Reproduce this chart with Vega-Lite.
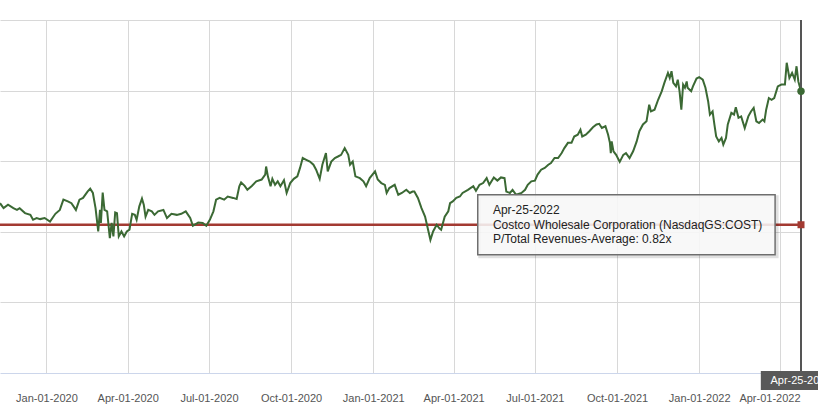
{
  "$schema": "https://vega.github.io/schema/vega-lite/v6.json",
  "width": 801,
  "height": 353,
  "autosize": {"type": "none"},
  "padding": {"left": 0, "top": 20, "right": 17, "bottom": 41},
  "background": "white",
  "config": {"view": {"stroke": null}, "font": "Liberation Sans"},
  "datasets": {
    "pr": [
      {"d": "2019-11-10", "v": 0.881}, {"d": "2019-11-14", "v": 0.867}, {"d": "2019-11-19", "v": 0.877}, {"d": "2019-11-25", "v": 0.867},
      {"d": "2019-11-29", "v": 0.862}, {"d": "2019-12-02", "v": 0.867}, {"d": "2019-12-08", "v": 0.853}, {"d": "2019-12-14", "v": 0.848},
      {"d": "2019-12-17", "v": 0.834}, {"d": "2019-12-21", "v": 0.839}, {"d": "2019-12-25", "v": 0.836}, {"d": "2019-12-30", "v": 0.839},
      {"d": "2020-01-05", "v": 0.829}, {"d": "2020-01-11", "v": 0.851}, {"d": "2020-01-16", "v": 0.862}, {"d": "2020-01-20", "v": 0.891},
      {"d": "2020-01-25", "v": 0.886}, {"d": "2020-01-29", "v": 0.881}, {"d": "2020-02-03", "v": 0.862}, {"d": "2020-02-07", "v": 0.891},
      {"d": "2020-02-11", "v": 0.896}, {"d": "2020-02-16", "v": 0.914}, {"d": "2020-02-19", "v": 0.922}, {"d": "2020-02-22", "v": 0.910},
      {"d": "2020-02-25", "v": 0.867}, {"d": "2020-02-28", "v": 0.801}, {"d": "2020-03-01", "v": 0.862}, {"d": "2020-03-02", "v": 0.825},
      {"d": "2020-03-04", "v": 0.911}, {"d": "2020-03-06", "v": 0.862}, {"d": "2020-03-09", "v": 0.858}, {"d": "2020-03-12", "v": 0.782},
      {"d": "2020-03-14", "v": 0.825}, {"d": "2020-03-16", "v": 0.787}, {"d": "2020-03-18", "v": 0.855}, {"d": "2020-03-20", "v": 0.853},
      {"d": "2020-03-22", "v": 0.787}, {"d": "2020-03-25", "v": 0.801}, {"d": "2020-03-28", "v": 0.787}, {"d": "2020-03-31", "v": 0.801},
      {"d": "2020-04-03", "v": 0.806}, {"d": "2020-04-06", "v": 0.851}, {"d": "2020-04-09", "v": 0.848}, {"d": "2020-04-11", "v": 0.834},
      {"d": "2020-04-14", "v": 0.872}, {"d": "2020-04-17", "v": 0.894}, {"d": "2020-04-19", "v": 0.877}, {"d": "2020-04-21", "v": 0.843},
      {"d": "2020-04-24", "v": 0.862}, {"d": "2020-04-28", "v": 0.858}, {"d": "2020-05-01", "v": 0.848}, {"d": "2020-05-05", "v": 0.858},
      {"d": "2020-05-11", "v": 0.862}, {"d": "2020-05-15", "v": 0.839}, {"d": "2020-05-20", "v": 0.851}, {"d": "2020-05-26", "v": 0.848},
      {"d": "2020-05-31", "v": 0.851}, {"d": "2020-06-05", "v": 0.858}, {"d": "2020-06-10", "v": 0.839}, {"d": "2020-06-13", "v": 0.817},
      {"d": "2020-06-19", "v": 0.826}, {"d": "2020-06-24", "v": 0.825}, {"d": "2020-06-28", "v": 0.817}, {"d": "2020-07-02", "v": 0.834},
      {"d": "2020-07-06", "v": 0.858}, {"d": "2020-07-09", "v": 0.891}, {"d": "2020-07-13", "v": 0.896}, {"d": "2020-07-18", "v": 0.891},
      {"d": "2020-07-22", "v": 0.900}, {"d": "2020-07-28", "v": 0.896}, {"d": "2020-08-01", "v": 0.893}, {"d": "2020-08-04", "v": 0.929},
      {"d": "2020-08-06", "v": 0.940}, {"d": "2020-08-10", "v": 0.930}, {"d": "2020-08-13", "v": 0.919}, {"d": "2020-08-18", "v": 0.930},
      {"d": "2020-08-23", "v": 0.943}, {"d": "2020-08-29", "v": 0.948}, {"d": "2020-09-02", "v": 0.962}, {"d": "2020-09-03", "v": 0.985},
      {"d": "2020-09-05", "v": 0.957}, {"d": "2020-09-08", "v": 0.929}, {"d": "2020-09-10", "v": 0.950}, {"d": "2020-09-13", "v": 0.933},
      {"d": "2020-09-16", "v": 0.943}, {"d": "2020-09-19", "v": 0.929}, {"d": "2020-09-23", "v": 0.946}, {"d": "2020-09-26", "v": 0.910},
      {"d": "2020-09-30", "v": 0.938}, {"d": "2020-10-04", "v": 0.950}, {"d": "2020-10-08", "v": 0.957}, {"d": "2020-10-11", "v": 0.981},
      {"d": "2020-10-14", "v": 1.009}, {"d": "2020-10-18", "v": 1.004}, {"d": "2020-10-22", "v": 0.999}, {"d": "2020-10-26", "v": 0.990},
      {"d": "2020-10-29", "v": 0.976}, {"d": "2020-11-02", "v": 0.950}, {"d": "2020-11-05", "v": 0.990}, {"d": "2020-11-09", "v": 1.023},
      {"d": "2020-11-11", "v": 0.971}, {"d": "2020-11-15", "v": 0.999}, {"d": "2020-11-19", "v": 1.009}, {"d": "2020-11-23", "v": 1.014},
      {"d": "2020-11-26", "v": 1.018}, {"d": "2020-11-30", "v": 1.037}, {"d": "2020-12-04", "v": 1.018}, {"d": "2020-12-06", "v": 0.990},
      {"d": "2020-12-09", "v": 0.999}, {"d": "2020-12-12", "v": 0.957}, {"d": "2020-12-17", "v": 0.952}, {"d": "2020-12-21", "v": 0.943},
      {"d": "2020-12-24", "v": 0.929}, {"d": "2020-12-28", "v": 0.952}, {"d": "2021-01-03", "v": 0.971}, {"d": "2021-01-06", "v": 0.948},
      {"d": "2021-01-10", "v": 0.938}, {"d": "2021-01-14", "v": 0.933}, {"d": "2021-01-16", "v": 0.910}, {"d": "2021-01-19", "v": 0.924},
      {"d": "2021-01-25", "v": 0.933}, {"d": "2021-01-29", "v": 0.905}, {"d": "2021-02-02", "v": 0.910}, {"d": "2021-02-07", "v": 0.919},
      {"d": "2021-02-11", "v": 0.910}, {"d": "2021-02-14", "v": 0.914}, {"d": "2021-02-16", "v": 0.914}, {"d": "2021-02-20", "v": 0.896},
      {"d": "2021-02-24", "v": 0.867}, {"d": "2021-02-28", "v": 0.843}, {"d": "2021-03-03", "v": 0.810}, {"d": "2021-03-06", "v": 0.777},
      {"d": "2021-03-09", "v": 0.801}, {"d": "2021-03-13", "v": 0.820}, {"d": "2021-03-16", "v": 0.810}, {"d": "2021-03-18", "v": 0.806},
      {"d": "2021-03-22", "v": 0.843}, {"d": "2021-03-26", "v": 0.858}, {"d": "2021-03-28", "v": 0.881}, {"d": "2021-03-31", "v": 0.886},
      {"d": "2021-04-04", "v": 0.896}, {"d": "2021-04-08", "v": 0.900}, {"d": "2021-04-11", "v": 0.910}, {"d": "2021-04-17", "v": 0.919},
      {"d": "2021-04-23", "v": 0.929}, {"d": "2021-04-26", "v": 0.916}, {"d": "2021-04-30", "v": 0.933}, {"d": "2021-05-04", "v": 0.938},
      {"d": "2021-05-08", "v": 0.952}, {"d": "2021-05-11", "v": 0.933}, {"d": "2021-05-16", "v": 0.954}, {"d": "2021-05-20", "v": 0.945},
      {"d": "2021-05-24", "v": 0.954}, {"d": "2021-05-28", "v": 0.952}, {"d": "2021-05-30", "v": 0.914}, {"d": "2021-06-03", "v": 0.910},
      {"d": "2021-06-06", "v": 0.919}, {"d": "2021-06-10", "v": 0.905}, {"d": "2021-06-16", "v": 0.910}, {"d": "2021-06-20", "v": 0.919},
      {"d": "2021-06-23", "v": 0.933}, {"d": "2021-06-27", "v": 0.943}, {"d": "2021-07-01", "v": 0.945}, {"d": "2021-07-04", "v": 0.962},
      {"d": "2021-07-08", "v": 0.976}, {"d": "2021-07-12", "v": 0.981}, {"d": "2021-07-16", "v": 0.990}, {"d": "2021-07-19", "v": 0.995},
      {"d": "2021-07-23", "v": 1.009}, {"d": "2021-07-27", "v": 1.009}, {"d": "2021-07-31", "v": 1.023}, {"d": "2021-08-03", "v": 1.037},
      {"d": "2021-08-07", "v": 1.052}, {"d": "2021-08-11", "v": 1.052}, {"d": "2021-08-14", "v": 1.070}, {"d": "2021-08-18", "v": 1.075},
      {"d": "2021-08-21", "v": 1.089}, {"d": "2021-08-23", "v": 1.070}, {"d": "2021-08-27", "v": 1.075}, {"d": "2021-08-31", "v": 1.085},
      {"d": "2021-09-04", "v": 1.096}, {"d": "2021-09-08", "v": 1.104}, {"d": "2021-09-11", "v": 1.106}, {"d": "2021-09-14", "v": 1.094},
      {"d": "2021-09-18", "v": 1.099}, {"d": "2021-09-21", "v": 1.075}, {"d": "2021-09-23", "v": 1.052}, {"d": "2021-09-24", "v": 1.023},
      {"d": "2021-09-25", "v": 1.056}, {"d": "2021-09-27", "v": 1.028}, {"d": "2021-09-30", "v": 1.018}, {"d": "2021-10-04", "v": 0.998},
      {"d": "2021-10-08", "v": 1.018}, {"d": "2021-10-11", "v": 1.023}, {"d": "2021-10-15", "v": 1.009}, {"d": "2021-10-19", "v": 1.028},
      {"d": "2021-10-23", "v": 1.056}, {"d": "2021-10-26", "v": 1.085}, {"d": "2021-10-30", "v": 1.104}, {"d": "2021-11-03", "v": 1.113},
      {"d": "2021-11-06", "v": 1.160}, {"d": "2021-11-08", "v": 1.141}, {"d": "2021-11-12", "v": 1.146}, {"d": "2021-11-16", "v": 1.174},
      {"d": "2021-11-20", "v": 1.198}, {"d": "2021-11-23", "v": 1.222}, {"d": "2021-11-27", "v": 1.250}, {"d": "2021-11-29", "v": 1.236},
      {"d": "2021-12-01", "v": 1.255}, {"d": "2021-12-03", "v": 1.222}, {"d": "2021-12-06", "v": 1.212}, {"d": "2021-12-08", "v": 1.231},
      {"d": "2021-12-10", "v": 1.198}, {"d": "2021-12-12", "v": 1.146}, {"d": "2021-12-14", "v": 1.217}, {"d": "2021-12-16", "v": 1.208},
      {"d": "2021-12-18", "v": 1.226}, {"d": "2021-12-19", "v": 1.208}, {"d": "2021-12-23", "v": 1.198}, {"d": "2021-12-25", "v": 1.212},
      {"d": "2021-12-29", "v": 1.234}, {"d": "2022-01-01", "v": 1.238}, {"d": "2022-01-05", "v": 1.231}, {"d": "2022-01-08", "v": 1.208},
      {"d": "2022-01-11", "v": 1.170}, {"d": "2022-01-13", "v": 1.132}, {"d": "2022-01-16", "v": 1.141}, {"d": "2022-01-18", "v": 1.104},
      {"d": "2022-01-20", "v": 1.070}, {"d": "2022-01-23", "v": 1.056}, {"d": "2022-01-26", "v": 1.066}, {"d": "2022-01-28", "v": 1.047},
      {"d": "2022-01-31", "v": 1.066}, {"d": "2022-02-02", "v": 1.104}, {"d": "2022-02-06", "v": 1.137}, {"d": "2022-02-09", "v": 1.132},
      {"d": "2022-02-11", "v": 1.153}, {"d": "2022-02-14", "v": 1.123}, {"d": "2022-02-17", "v": 1.127}, {"d": "2022-02-21", "v": 1.094},
      {"d": "2022-02-25", "v": 1.127}, {"d": "2022-02-28", "v": 1.141}, {"d": "2022-03-03", "v": 1.151}, {"d": "2022-03-06", "v": 1.113},
      {"d": "2022-03-09", "v": 1.108}, {"d": "2022-03-13", "v": 1.118}, {"d": "2022-03-15", "v": 1.113}, {"d": "2022-03-17", "v": 1.146},
      {"d": "2022-03-20", "v": 1.179}, {"d": "2022-03-23", "v": 1.174}, {"d": "2022-03-26", "v": 1.179}, {"d": "2022-03-30", "v": 1.212},
      {"d": "2022-04-03", "v": 1.217}, {"d": "2022-04-07", "v": 1.217}, {"d": "2022-04-09", "v": 1.279}, {"d": "2022-04-12", "v": 1.236},
      {"d": "2022-04-15", "v": 1.250}, {"d": "2022-04-18", "v": 1.231}, {"d": "2022-04-20", "v": 1.269}, {"d": "2022-04-22", "v": 1.226},
      {"d": "2022-04-25", "v": 1.198}
    ]
  },
  "layer": [
    {
      "data": {"values": [{}]},
      "mark": {"type": "rule", "color": "#a33a32", "strokeWidth": 2.5},
      "encoding": {"y": {"datum": 0.82}}
    },
    {
      "data": {"name": "pr"},
      "mark": {"type": "line", "color": "#3b6934", "strokeWidth": 2},
      "encoding": {
        "x": {
          "field": "d",
          "type": "temporal",
          "scale": {"type": "utc", "domain": [{"year": 2019, "month": 11, "date": 10, "utc": true}, {"year": 2022, "month": 4, "date": 25, "utc": true}]},
          "axis": {
            "title": null,
            "values": [
              {"year": 2020, "month": 1, "date": 1, "utc": true},
              {"year": 2020, "month": 4, "date": 1, "utc": true},
              {"year": 2020, "month": 7, "date": 1, "utc": true},
              {"year": 2020, "month": 10, "date": 1, "utc": true},
              {"year": 2021, "month": 1, "date": 1, "utc": true},
              {"year": 2021, "month": 4, "date": 1, "utc": true},
              {"year": 2021, "month": 7, "date": 1, "utc": true},
              {"year": 2021, "month": 10, "date": 1, "utc": true},
              {"year": 2022, "month": 1, "date": 1, "utc": true},
              {"year": 2022, "month": 4, "date": 1, "utc": true}
            ],
            "labelExpr": "utcFormat(datum.value, '%b-%d-%Y')",
            "grid": true,
            "gridColor": "#d8d8d8",
            "ticks": false,
            "domainColor": "#ccd6eb",
            "domainWidth": 1,
            "labelColor": "#555555",
            "labelFontSize": 11,
            "labelFont": "Liberation Sans",
            "labelPadding": 19,
            "labelFlush": 22,
            "labelFlushOffset": 20.5,
            "labelOverlap": false
          }
        },
        "y": {
          "field": "v",
          "type": "quantitative",
          "scale": {"domain": [0.4, 1.4], "nice": false, "zero": false},
          "axis": {"title": null, "labels": false, "ticks": false, "domain": false, "values": [0.6, 0.8, 1.0, 1.2, 1.4], "grid": true, "gridColor": "#d8d8d8"}
        }
      }
    },
    {
      "data": {"values": [{}]},
      "mark": {"type": "rule", "color": "#555555", "strokeWidth": 2},
      "encoding": {"x": {"datum": {"year": 2022, "month": 4, "date": 25, "utc": true}, "type": "temporal"}}
    },
    {
      "data": {"values": [{}]},
      "mark": {"type": "point", "shape": "circle", "filled": true, "size": 55, "color": "#3b6934", "opacity": 1},
      "encoding": {"x": {"datum": {"year": 2022, "month": 4, "date": 25, "utc": true}, "type": "temporal"}, "y": {"datum": 1.198}}
    },
    {
      "data": {"values": [{}]},
      "mark": {"type": "point", "shape": "square", "filled": true, "size": 49, "color": "#a33a32", "opacity": 1},
      "encoding": {"x": {"datum": {"year": 2022, "month": 4, "date": 25, "utc": true}, "type": "temporal"}, "y": {"datum": 0.82}}
    },
    {
      "data": {"values": [{}]},
      "mark": {"type": "rect", "fill": null, "stroke": "#000000", "strokeOpacity": 0.12, "strokeWidth": 3, "xOffset": 2, "x2Offset": 2, "yOffset": 2, "y2Offset": 2},
      "encoding": {
        "x": {"datum": {"year": 2021, "month": 4, "date": 28, "utc": true}, "type": "temporal"},
        "x2": {"datum": {"year": 2022, "month": 3, "date": 27, "utc": true}},
        "y": {"datum": 0.905},
        "y2": {"datum": 0.735}
      }
    },
    {
      "data": {"values": [{}]},
      "mark": {"type": "rect", "fill": "#f7f7f7", "fillOpacity": 0.88, "stroke": "#6e6e6e", "strokeWidth": 1.5},
      "encoding": {
        "x": {"datum": {"year": 2021, "month": 4, "date": 28, "utc": true}, "type": "temporal"},
        "x2": {"datum": {"year": 2022, "month": 3, "date": 27, "utc": true}},
        "y": {"datum": 0.905},
        "y2": {"datum": 0.735}
      }
    },
    {
      "data": {"values": [{}]},
      "mark": {
        "type": "text",
        "text": ["Apr-25-2022", "Costco Wholesale Corporation (NasdaqGS:COST)", "P/Total Revenues-Average: 0.82x"],
        "font": "Liberation Sans",
        "fontSize": 12,
        "lineHeight": 14.5,
        "align": "left",
        "baseline": "alphabetic",
        "color": "#222222"
      },
      "encoding": {
        "x": {"datum": {"year": 2021, "month": 5, "date": 15, "utc": true}, "type": "temporal"},
        "y": {"datum": 0.8502}
      }
    },
    {
      "data": {"values": [{}]},
      "mark": {"type": "rect", "fill": "#595959"},
      "encoding": {
        "x": {"datum": {"year": 2022, "month": 3, "date": 11, "utc": true}, "type": "temporal"},
        "x2": {"datum": {"year": 2022, "month": 6, "date": 10, "utc": true}},
        "y": {"datum": 0.406},
        "y2": {"datum": 0.352}
      }
    },
    {
      "data": {"values": [{}]},
      "mark": {"type": "text", "text": "Apr-25-2022", "font": "Liberation Sans", "fontSize": 11, "align": "center", "baseline": "middle", "color": "#ffffff"},
      "encoding": {
        "x": {"datum": {"year": 2022, "month": 4, "date": 25, "utc": true}, "type": "temporal"},
        "y": {"datum": 0.378}
      }
    }
  ]
}
